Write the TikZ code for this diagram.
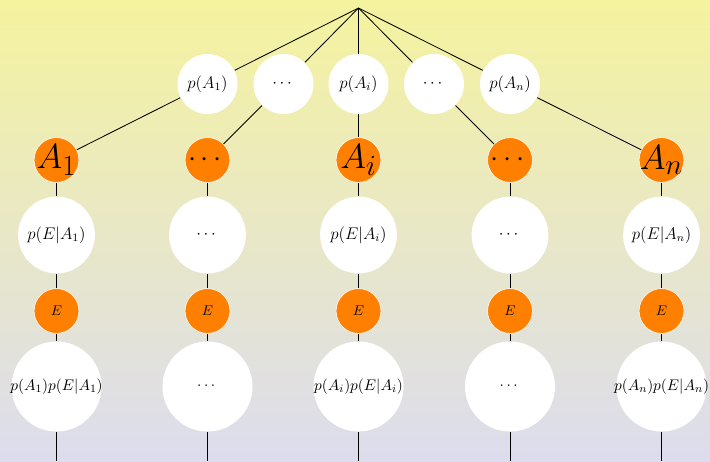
\documentclass[tikz,border=0pt]{standalone}
\usepackage{amsmath,amssymb}
\usepackage{tikz}
\usetikzlibrary{positioning}
\definecolor{bgtop}{RGB}{245,243,158}
\definecolor{bgbot}{RGB}{220,220,238}
\definecolor{evorange}{RGB}{255,128,0}
\newcommand{\nowidth}[1]{\makebox[0pt]{#1}}

\begin{document}
\begin{tikzpicture}[
    x=0.025cm, y=-0.025cm,
    line width=0.6pt,
    prob/.style={circle, fill=white, inner sep=0pt, minimum size=1.5cm,
                 font=\large},
    cond/.style={prob, minimum size=1.92cm},
    joint/.style={prob, minimum size=2.25cm,
                  font=\fontsize{11.2}{13}\selectfont},
    event/.style={circle, fill=evorange, draw=white, line width=0.4pt,
                  inner sep=0pt, minimum size=1.12cm},
    hyp/.style={event, font=\Huge},
    obs/.style={event, font=\normalsize},
]

\shade[top color=bgtop, bottom color=bgbot] (0,0) rectangle (710,461);

\coordinate (root) at (358.5,8);

\node[prob] (pa1) at (207.5,84) {$p(A_1)$};
\node[prob] (pdots1) at (283.5,84) {$\cdots$};
\node[prob] (pai) at (358.5,84) {$p(A_i)$};
\node[prob] (pdots2) at (434,84) {$\cdots$};
\node[prob] (pan) at (510,84) {$p(A_n)$};

\node[hyp] (a1) at (56.5,160) {\nowidth{$A_1$}};
\node[hyp, font=\huge] (adots1) at (207.5,160) {\nowidth{$\cdots$}};
\node[hyp] (ai) at (358.5,160) {\nowidth{$A_i$}};
\node[hyp, font=\huge] (adots2) at (510,160) {\nowidth{$\cdots$}};
\node[hyp] (an) at (661.5,160) {\nowidth{$A_n$}};

\node[cond] (pea1) at (56.5,235) {$p(E|A_1)$};
\node[cond] (pedots1) at (207.5,235) {$\cdots$};
\node[cond] (peai) at (358.5,235) {$p(E|A_i)$};
\node[cond] (pedots2) at (510,235) {$\cdots$};
\node[cond] (pean) at (661.5,235) {$p(E|A_n)$};

\node[obs] (e1) at (56.5,311) {$E$};
\node[obs] (edots1) at (207.5,311) {$E$};
\node[obs] (ei) at (358.5,311) {$E$};
\node[obs] (edots2) at (510,311) {$E$};
\node[obs] (en) at (661.5,311) {$E$};

\node[joint] (j1) at (56.5,386.5) {\nowidth{$p(A_1)p(E|A_1)$}};
\node[joint] (jdots1) at (207.5,386.5) {$\cdots$};
\node[joint] (ji) at (358.5,386.5) {\nowidth{$p(A_i)p(E|A_i)$}};
\node[joint] (jdots2) at (510,386.5) {$\cdots$};
\node[joint] (jn) at (661.5,386.5) {\nowidth{$p(A_n)p(E|A_n)$}};

\coordinate (b1) at (56.5,461);
\coordinate (bdots1) at (207.5,461);
\coordinate (bi) at (358.5,461);
\coordinate (bdots2) at (510,461);
\coordinate (bn) at (661.5,461);

% priors
\draw (root) -- (pa1);
\draw (root) -- (pdots1);
\draw (root) -- (pai);
\draw (root) -- (pdots2);
\draw (root) -- (pan);
\draw (pa1) -- (a1);
\draw (pdots1) -- (adots1);
\draw (pai) -- (ai);
\draw (pdots2) -- (adots2);
\draw (pan) -- (an);

% one branch per hypothesis
\draw (a1) -- (pea1) -- (e1) -- (j1) -- (b1);
\draw (adots1) -- (pedots1) -- (edots1) -- (jdots1) -- (bdots1);
\draw (ai) -- (peai) -- (ei) -- (ji) -- (bi);
\draw (adots2) -- (pedots2) -- (edots2) -- (jdots2) -- (bdots2);
\draw (an) -- (pean) -- (en) -- (jn) -- (bn);

\end{tikzpicture}
\end{document}
